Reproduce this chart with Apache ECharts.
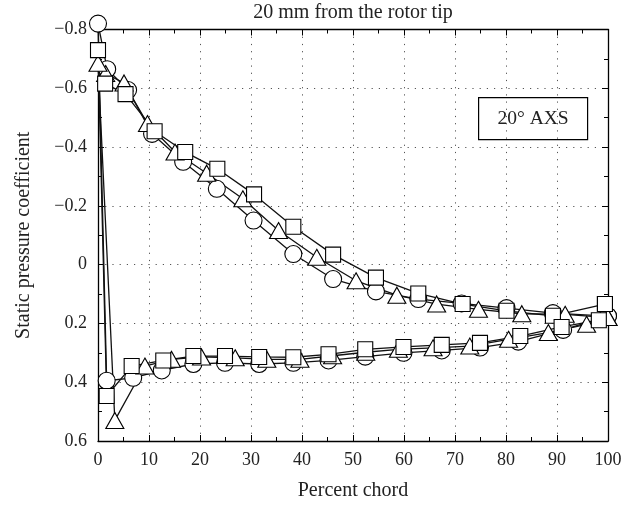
<!DOCTYPE html>
<html>
<head>
<meta charset="utf-8">
<script src="https://cdn.jsdelivr.net/npm/echarts@6/dist/echarts.min.js"></script>
<style>
  html, body { margin: 0; padding: 0; background: #fff; }
  #chart { width: 638px; height: 506px; }
</style>
</head>
<body>
<div id="chart"></div>
<script>
// upper (suction) and lower (pressure) surface, [percent chord, Cp]
var circleUpper = [[0, -0.82], [1.8, -0.665], [5.9, -0.594], [10.6, -0.445], [16.7, -0.35], [23.3, -0.258],
    [30.5, -0.15], [38.3, -0.036], [46.1, 0.049], [54.5, 0.091], [62.8, 0.117], [71.3, 0.132],
    [80.1, 0.148], [89.2, 0.165], [100, 0.175]];
var circleLower = [[0, -0.82], [1.7, 0.395], [6.9, 0.385], [12.5, 0.36], [18.7, 0.338], [24.9, 0.334],
    [31.6, 0.338], [38.3, 0.334], [45.2, 0.326], [52.4, 0.313], [59.9, 0.3], [67.4, 0.292],
    [74.9, 0.282], [82.4, 0.262], [91.2, 0.222], [100, 0.175]];

var triangleUpper = [[0, -0.685], [1.5, -0.65], [5.1, -0.618], [9.7, -0.48], [15.1, -0.383], [21.3, -0.311],
    [28.4, -0.224], [35.4, -0.116], [42.9, -0.025], [50.6, 0.055], [58.6, 0.104], [66.4, 0.134],
    [74.6, 0.152], [83.1, 0.167], [91.6, 0.169], [100, 0.18]];
var triangleLower = [[0, -0.685], [3.3, 0.53], [9.2, 0.345], [14.4, 0.322], [20.3, 0.314], [26.9, 0.317],
    [33.1, 0.322], [39.6, 0.322], [46.0, 0.31], [52.5, 0.298], [58.9, 0.288], [65.7, 0.283],
    [72.9, 0.277], [80.5, 0.254], [88.3, 0.231], [95.8, 0.203], [100, 0.18]];

var squareUpper = [[0, -0.73], [1.4, -0.616], [5.4, -0.58], [11.1, -0.454], [17.1, -0.383], [23.4, -0.326],
    [30.6, -0.239], [38.3, -0.129], [46.1, -0.034], [54.5, 0.044], [62.8, 0.098], [71.5, 0.134],
    [80.1, 0.157], [89.2, 0.174], [99.4, 0.134]];
var squareLower = [[0, -0.73], [1.7, 0.447], [6.6, 0.345], [12.8, 0.326], [18.7, 0.311], [24.9, 0.311],
    [31.6, 0.314], [38.3, 0.315], [45.2, 0.305], [52.4, 0.288], [59.9, 0.28], [67.4, 0.273],
    [74.9, 0.266], [82.8, 0.243], [90.9, 0.212], [98.2, 0.189], [99.4, 0.134]];

var xTicks = [0, 10, 20, 30, 40, 50, 60, 70, 80, 90, 100];
var yTicks = [-0.8, -0.6, -0.4, -0.2, 0, 0.2, 0.4, 0.6];

var titleText = '20 mm from the rotor tip';
var boxText = '20\u00b0 AXS';
var xName = 'Percent chord';
var yName = 'Static pressure coefficient';

var font = 'Liberation Serif';

// one closed loop per shape: upper surface back to LE, then lower surface to TE
function loop(upper, lower) {
    return upper.slice().reverse().concat(lower.slice(1));
}

function yLabel(v) {
    var r = Math.round(v * 10) / 10;
    if (r === 0) return '0';
    var s = Math.abs(r).toFixed(1);
    return r < 0 ? '\u2212' + s : s;
}

var chart = echarts.init(document.getElementById('chart'), null, { renderer: 'canvas' });

var tickStyle = { show: true, inside: true, length: 6, lineStyle: { color: '#000', width: 1 } };
var minorStyle = { show: true, splitNumber: 2, length: 4, lineStyle: { color: '#000', width: 1 } };
var axisLineStyle = { show: true, onZero: false, lineStyle: { color: '#000', width: 1.3 } };
var dotted = { show: true, lineStyle: { color: '#555', width: 1, type: [1.2, 6] } };

function seriesFor(name, symbol, size, upper, lower) {
    return {
        name: name,
        type: 'line',
        data: loop(upper, lower),
        symbol: symbol,
        symbolSize: size,
        showAllSymbol: true,
        clip: false,
        lineStyle: { color: '#111', width: 1.3 },
        itemStyle: { color: '#fff', borderColor: '#000', borderWidth: 1.1 },
        emphasis: { disabled: true },
        animation: false
    };
}

var option = {
    animation: false,
    grid: { left: 98, right: 30, top: 29.5, bottom: 65 },
    xAxis: [{
        type: 'value',
        min: 0,
        max: 100,
        interval: 10,
        position: 'bottom',
        name: xName,
        nameLocation: 'middle',
        nameGap: 40,
        nameTextStyle: { fontFamily: font, fontSize: 20, color: '#222' },
        axisLine: axisLineStyle,
        axisTick: tickStyle,
        minorTick: minorStyle,
        splitLine: dotted,
        axisLabel: {
            fontFamily: font, fontSize: 18, color: '#222', margin: 10,
            formatter: function (v) { return xTicks.indexOf(v) >= 0 ? String(v) : ''; }
        }
    }, {
        type: 'value',
        min: 0,
        max: 100,
        interval: 10,
        position: 'top',
        axisLine: axisLineStyle,
        axisTick: tickStyle,
        minorTick: minorStyle,
        splitLine: { show: false },
        axisLabel: { show: false }
    }],
    yAxis: [{
        type: 'value',
        min: -0.8,
        max: 0.6,
        interval: 0.2,
        inverse: true,
        position: 'left',
        name: yName,
        nameLocation: 'middle',
        nameGap: 64,
        nameTextStyle: { fontFamily: font, fontSize: 20, color: '#222' },
        axisLine: axisLineStyle,
        axisTick: tickStyle,
        minorTick: minorStyle,
        splitLine: dotted,
        axisLabel: { fontFamily: font, fontSize: 18, color: '#222', margin: 11, formatter: yLabel }
    }, {
        type: 'value',
        min: -0.8,
        max: 0.6,
        interval: 0.2,
        inverse: true,
        position: 'right',
        axisLine: axisLineStyle,
        axisTick: tickStyle,
        minorTick: minorStyle,
        splitLine: { show: false },
        axisLabel: { show: false }
    }],
    graphic: [{
        type: 'text',
        x: 353,
        y: 13,
        style: {
            text: titleText, font: '20px "Liberation Serif"', fill: '#222',
            align: 'center', verticalAlign: 'middle'
        }
    }, {
        type: 'group',
        left: 478,
        top: 97,
        z: 100,
        children: [{
            type: 'rect',
            shape: { x: 0, y: 0, width: 109, height: 42 },
            style: { fill: '#fff', stroke: '#000', lineWidth: 1.2 }
        }, {
            type: 'text',
            x: 54.5,
            y: 21,
            style: {
                text: boxText, font: '19.5px "Liberation Serif"', fill: '#222',
                align: 'center', verticalAlign: 'middle'
            }
        }]
    }],
    series: [
        seriesFor('circle', 'circle', 17, circleUpper, circleLower),
        seriesFor('triangle', 'triangle', [18, 16], triangleUpper, triangleLower),
        seriesFor('square', 'rect', 15, squareUpper, squareLower)
    ]
};

chart.setOption(option);
</script>
</body>
</html>
